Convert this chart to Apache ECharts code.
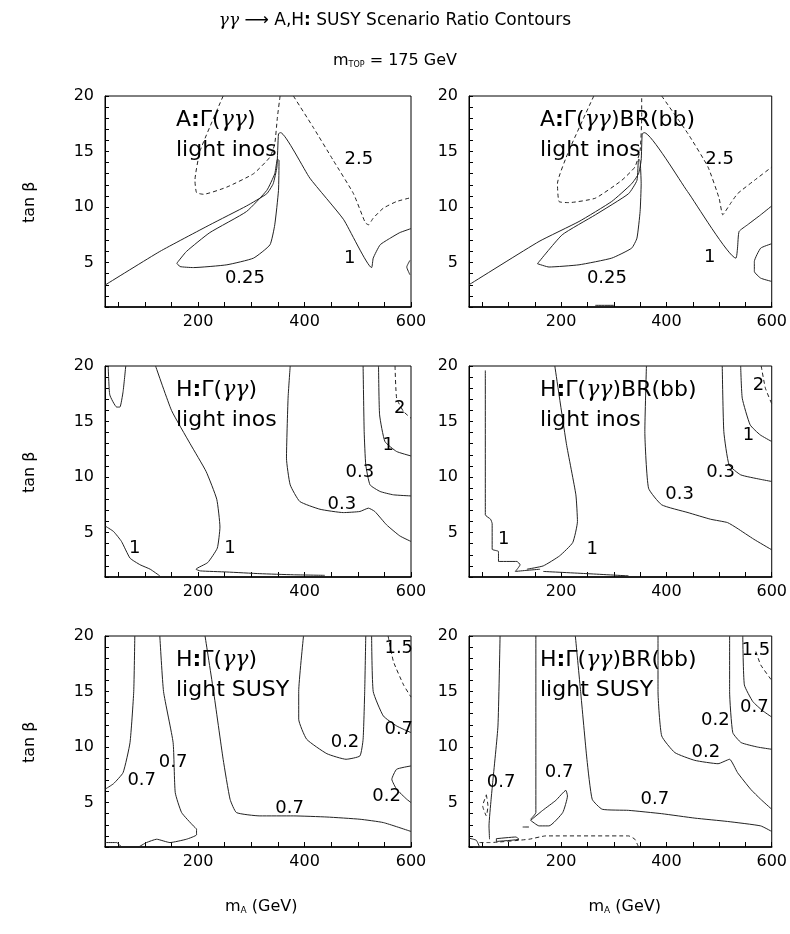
<!DOCTYPE html>
<html><head><meta charset="utf-8">
<script src="https://cdn.jsdelivr.net/npm/echarts@6/dist/echarts.min.js"></script>
<style>html,body{margin:0;padding:0;background:#fff}#c{width:790px;height:934px}</style>
</head><body><div id="c"></div>
<script>
// ---- axes ----
const xTicks = [50,100,150,200,250,300,350,400,450,500,550,600];
const xLabels = [200,400,600];
const yTicks = [1,2,3,4,5,6,7,8,9,10,11,12,13,14,15,16,17,18,19,20];
const yLabels = [5,10,15,20];

// ---- panel 1: A: Γ(γγ), light inos ----
const p1_c1 = [[25,2.97],[128,6.0],[222,8.4],[291,10.1],[329,11.2],[341,12.1],[348,13.6],[351,16.6],[355,16.7],[410,12.6],[473,8.9],[526,4.55],[529,5.4],[542,6.6],[561,7.2],[579,7.7],[600,8.06]];
const p1_c025 = [[160,4.94],[166,4.64],[191,4.55],[254,4.8],[304,5.4],[335,6.6],[344,8.4],[351,11.5],[352,14.2],[349,14.3],[344,13.0],[329,11.5],[291,9.6],[222,7.7],[178,6.0],[160,4.94]];
const p1_c25a = [[247,20],[204,15.1],[194,12.4],[197,11.3],[210,11.15],[254,11.8],[304,13.0],[335,14.5],[344,15.7],[349,18.1],[354,20]];
const p1_c25b = [[379,20],[416,17.2],[454,14.2],[492,11.2],[514,8.6],[520,8.4],[529,9.0],[548,9.9],[573,10.5],[600,10.85]];
const p1_arc = [[598,5.2],[592,4.6],[598,3.9]];
const p1_lab = [[502,14.3,'2.5'],[485,5.4,'1'],[288,3.6,'0.25']];

// ---- panel 2: A: Γ(γγ)BR(bb), light inos ----
const p2_c1 = [[25,3.0],[158,6.9],[234,8.7],[296,10.5],[334,12.1],[347,13.0],[352,14.2],[354,16.6],[358,16.7],[440,11.4],[532,5.4],[535,6.3],[538,7.8],[554,8.4],[579,9.3],[600,10.1]];
const p2_c025 = [[155,4.9],[177,4.6],[234,4.8],[296,5.4],[334,6.3],[344,7.2],[350,9.6],[352,12.1],[350,14.2],[347,14.3],[344,12.4],[328,11.2],[265,9.3],[202,7.5],[155,4.9]];
const p2_c25a = [[262,20],[215,15.1],[193,12.1],[196,10.5],[215,10.4],[265,10.8],[315,12.4],[340,13.6],[350,15.1],[353,18.1],[353,20]];
const p2_c25b = [[391,20],[441,16.6],[479,13.6],[500,10.8],[507,9.3],[520,10.2],[535,11.2],[567,12.4],[600,13.6]];
const p2_half = [[600,6.7],[579,6.3],[567,5.1],[567,4.2],[579,3.6],[600,3.3]];
const p2_bit = [[265,1.15],[300,1.15]];
const p2_lab = [[501,14.3,'2.5'],[482,5.5,'1'],[287,3.6,'0.25']];

// ---- panel 3: H: Γ(γγ), light inos ----
const p3_u = [[31,20],[34,17.4],[47,16.3],[53,16.3],[59,17.7],[64,20]];
const p3_c1a = [[25,5.6],[41,5.1],[56,4.2],[72,2.7],[91,2.1],[110,1.7],[128,1.1]];
const p3_c1b = [[120,20],[150,16],[185,13],[215,10.5],[235,8],[241,5.5],[236,3.6],[218,2.3],[196,1.7],[204,1.55],[254,1.45],[316,1.3],[379,1.2],[438,1.15]];
const p3_c03a = [[373,20],[369,17.1],[366,11.7],[373,9.3],[391,7.8],[429,7.1],[473,6.8],[504,6.9],[520,7.2],[532,6.9],[554,5.7],[579,4.7],[600,4.2]];
const p3_c03b = [[510,20],[512,14.1],[515,11.1],[523,9.3],[542,8.7],[567,8.4],[600,8.3]];
const p3_c1r = [[539,20],[541,15.6],[551,13.2],[573,12.3],[600,11.9]];
const p3_c2 = [[570,20],[573,17.1],[586,15.9],[600,15.3]];
const p3_lab = [[579,16.2,'2'],[557,12.9,'1'],[504,10.4,'0.3'],[470,7.5,'0.3'],[81,3.6,'1'],[260,3.6,'1']];

// ---- panel 4: H: Γ(γγ)BR(bb), light inos ----
const p4_c1a = [[56,19.6],[56,6.6],[66,6.2],[69,5.8],[69,3.5],[81,3.3],[81,2.4],[116,2.4],[122,2.1],[113,1.5],[135,1.6],[160,1.7]];
const p4_c1b = [[188,20],[210,13],[228,8.4],[231,6],[222,4.1],[197,2.9],[166,2.0],[135,1.7]];
const p4_bot = [[166,1.5],[250,1.3],[328,1.1]];
const p4_c03a = [[362,20],[359,14.1],[366,9.0],[391,7.5],[441,6.8],[484,6.2],[516,5.9],[534,5.4],[566,4.4],[600,3.45]];
const p4_c03b = [[506,20],[509,14.1],[519,11.1],[541,10.2],[578,9.8],[600,9.6]];
const p4_c1r = [[541,20],[544,17.1],[559,14.7],[578,13.8],[600,13.2]];
const p4_c2 = [[580,20],[588,18.0],[600,16.6]];
const p4_lab = [[575,18.3,'2'],[556,13.8,'1'],[503,10.4,'0.3'],[425,8.4,'0.3'],[91,4.4,'1'],[259,3.5,'1']];

// ---- panel 5: H: Γ(γγ), light SUSY ----
const p5_c07a = [[81,20],[79,15],[72,10.4],[59,7.7],[41,6.7],[25,6.2]];
const p5_c07b = [[128,20],[135,15],[153,10.4],[157,5.9],[169,4.1],[191,2.9],[197,2.6],[197,2.1],[178,1.7],[147,1.4],[122,1.7],[103,1.4],[88,1]];
const p5_c07c = [[213,20],[229,15],[247,8.9],[260,5.3],[272,4.1],[316,3.8],[379,3.8],[442,3.7],[504,3.5],[548,3.2],[600,2.4]];
const p5_c02a = [[398,20],[389,15],[389,12.5],[404,10.7],[442,9.4],[478,8.9],[504,9.2],[510,10.7],[513,15],[515,20]];
const p5_c07r = [[526,20],[529,15],[548,12.8],[573,11.9],[600,11.3]];
const p5_c15 = [[557,20],[567,17.7],[586,15.6],[600,14.5]];
const p5_c02b = [[600,8.3],[573,8.0],[564,7.1],[573,6.2],[592,5.3],[600,5.0]];
const p5_corner = [[25,1.4],[47,1.4],[56,1]];
const p5_lab = [[577,18.9,'1.5'],[577,11.6,'0.7'],[476,10.4,'0.2'],[554,5.6,'0.2'],[372,4.5,'0.7'],[153,8.6,'0.7'],[94,7.0,'0.7']];

// ---- panel 6: H: Γ(γγ)BR(bb), light SUSY ----
const p6_c07a = [[84,20],[80,11.9],[70,6.8],[67,5.3],[63,2.9],[64,1.7]];
const p6_ell = [[58,5.7],[61,4.7],[58,3.8],[51,4.7],[58,5.7]];
const p6_c07b = [[152,20],[152,11.9],[152,4.1],[142,3.5]];
const p6_loop = [[142,3.4],[165,4.3],[190,5.2],[209,6.1],[212,5.6],[203,4.1],[177,2.9],[158,2.9],[142,3.4]];
const p6_bit = [[127,2.8],[139,2.8]];
const p6_small = [[77,1.75],[114,1.9],[120,1.7],[77,1.5],[77,1.75]];
const p6_botDash = [[45,1.4],[64,1.4],[139,1.7],[171,2.0],[328,2.0],[340,1.7],[347,1.0]];
const p6_corner = [[25,1.8],[39,1.6],[45,1.0]];
const p6_c07c = [[227,20],[237,15],[249,8.9],[259,5.3],[278,4.4],[328,4.3],[391,4.0],[454,3.6],[516,3.3],[579,2.9],[600,2.4]];
const p6_c02a = [[384,20],[384,15],[391,11.0],[416,9.5],[454,8.8],[498,8.5],[520,8.9],[535,7.7],[560,6.2],[579,5.3],[600,4.4]];
const p6_c02b = [[520,20],[520,15],[526,11.3],[542,10.4],[573,10.0],[600,9.8]];
const p6_c07r = [[545,20],[548,15.6],[564,14.1],[582,13.3],[600,12.7]];
const p6_c15 = [[570,18.6],[579,17.4],[600,16]];
const p6_lab = [[570,18.7,'1.5'],[567,13.6,'0.7'],[493,12.4,'0.2'],[475,9.5,'0.2'],[378,5.3,'0.7'],[196,7.7,'0.7'],[86,6.8,'0.7']];

// ---- panel texts ----
const panelHead = ['A','A','H','H','H','H'];
const panelBR = [false,true,false,true,false,true];
const panelSub = ['light inos','light inos','light inos','light inos','light SUSY','light SUSY'];

const panels = [
  {solid:[p1_c1,p1_c025,p1_arc], dashed:[p1_c25a,p1_c25b], lab:p1_lab},
  {solid:[p2_c1,p2_c025,p2_half,p2_bit], dashed:[p2_c25a,p2_c25b], lab:p2_lab},
  {solid:[p3_u,p3_c1a,p3_c1b,p3_c03a,p3_c03b,p3_c1r], dashed:[p3_c2], lab:p3_lab},
  {solid:[p4_c1a,p4_c1b,p4_bot,p4_c03a,p4_c03b,p4_c1r], dashed:[p4_c2], lab:p4_lab},
  {solid:[p5_c07a,p5_c07b,p5_c07c,p5_c02a,p5_c07r,p5_c02b,p5_corner], dashed:[p5_c15], lab:p5_lab},
  {solid:[p6_c07a,p6_c07b,p6_loop,p6_bit,p6_small,p6_corner,p6_c07c,p6_c02a,p6_c02b,p6_c07r], dashed:[p6_ell,p6_botDash,p6_c15], lab:p6_lab}
];

const FONT = 'DejaVu Sans';
const colLeft = [105, 469], colW = [306, 305];
const rowTop = [96, 366, 636], rowH = 211;
const txt = (size, extra) => Object.assign({fontFamily: FONT, fontSize: size, fontWeight: 'normal', color: '#000'}, extra || {});

const grids = [], xAxes = [], yAxes = [], series = [], titles = [], graphics = [];
panels.forEach((p, i) => {
  const col = i % 2, row = Math.floor(i / 2);
  grids.push({left: colLeft[col], top: rowTop[row], width: colW[col], height: rowH,
    show: true, borderColor: '#000', borderWidth: 1, backgroundColor: 'transparent'});
  xAxes.push({gridIndex: i, type: 'value', min: 25, max: 600,
    axisLine: {show: true, onZero: false, lineStyle: {color: '#000', width: 1.5}},
    axisTick: {show: true, inside: true, length: 5, customValues: xTicks, lineStyle: {color: '#000'}},
    axisLabel: Object.assign({customValues: xLabels, margin: 7}, txt(16)),
    splitLine: {show: false}});
  yAxes.push({gridIndex: i, type: 'value', min: 1, max: 20,
    axisLine: {show: true, onZero: false, lineStyle: {color: '#000', width: 1}},
    axisTick: {show: true, inside: true, length: 4, customValues: yTicks, lineStyle: {color: '#000'}},
    axisLabel: Object.assign({customValues: yLabels, margin: 11}, txt(16)),
    splitLine: {show: false}});
  p.solid.forEach(d => series.push({type: 'line', xAxisIndex: i, yAxisIndex: i, data: d,
    showSymbol: false, smooth: 0.15, clip: true, silent: true,
    lineStyle: {color: '#222', width: 1}}));
  p.dashed.forEach(d => series.push({type: 'line', xAxisIndex: i, yAxisIndex: i, data: d,
    showSymbol: false, smooth: 0.15, clip: true, silent: true,
    lineStyle: {color: '#222', width: 1, type: [4, 3]}}));
  series.push({type: 'scatter', xAxisIndex: i, yAxisIndex: i, data: p.lab, symbolSize: 1,
    itemStyle: {color: 'rgba(0,0,0,0)'}, silent: true, z: 5,
    label: Object.assign({show: true, position: 'inside', formatter: q => q.data[2],
      opacity: 1, textBorderWidth: 0}, txt(18))});
  const head = '{t|' + panelHead[i] + '}{c|:}{t|Γ(}{g|γγ}{t|)' + (panelBR[i] ? 'BR(bb)' : '') + '}';
  titles.push({text: head, left: colLeft[col] + 66, top: rowTop[row] + 8,
    textStyle: {fontWeight: 'normal', rich: {
      t: txt(22), c: txt(22, {fontWeight: 'bold'}),
      g: txt(22, {fontFamily: 'DejaVu Serif', fontStyle: 'italic'})}}});
  titles.push({text: panelSub[i], left: colLeft[col] + 66, top: rowTop[row] + 38, textStyle: txt(22)});
  if (col === 0) {
    graphics.push({type: 'text', left: 22, top: rowTop[row] + rowH / 2 - 20, rotation: Math.PI / 2,
      style: {text: 'tan β', font: '16px "DejaVu Sans"', fill: '#000'}});
  }
  if (row === 2) {
    titles.push({text: '{n|m}{s|A}{n| (GeV)}', left: colLeft[col] + colW[col] / 2 - 38, top: 893,
      textStyle: {fontWeight: 'normal', rich: {n: txt(16), s: txt(9, {padding: [8, 0, 0, 0]})}}});
  }
});

titles.push({text: '{g|γγ}{a| ⟶ }{n|A,H}{c|:}{n| SUSY Scenario Ratio Contours}', left: 'center', top: 7,
  textStyle: {fontWeight: 'normal', rich: {
    g: txt(17, {fontFamily: 'DejaVu Serif', fontStyle: 'italic'}),
    a: txt(17), c: txt(17, {fontWeight: 'bold'}), n: txt(17)}}});
titles.push({text: '{n|m}{s|TOP}{n| = 175 GeV}', left: 'center', top: 48,
  textStyle: {fontWeight: 'normal', rich: {n: txt(16), s: txt(8, {padding: [8, 0, 0, 0]})}}});

const chart = echarts.init(document.getElementById('c'), null, {renderer: 'canvas'});
chart.setOption({animation: false, backgroundColor: '#fff',
  title: titles, grid: grids, xAxis: xAxes, yAxis: yAxes, series: series, graphic: graphics});
</script></body></html>
